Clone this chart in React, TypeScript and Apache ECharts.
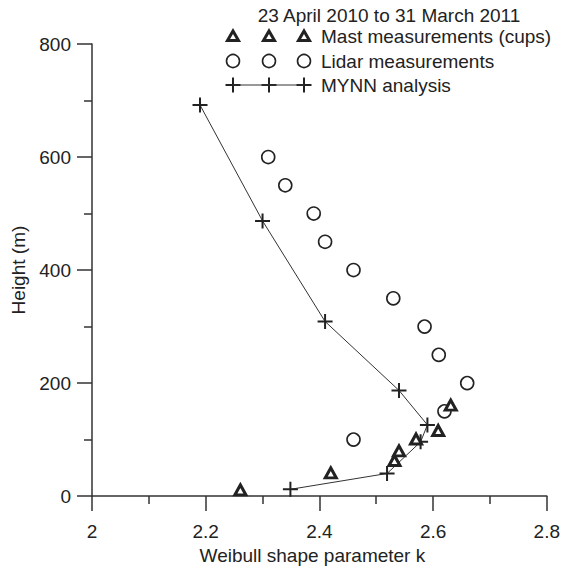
import React, { useEffect, useRef } from "react";
import * as echarts from "echarts";

const kTicks = ["2", "2.2", "2.4", "2.6", "2.8"];

const mastK = [2.261, 2.42, 2.532, 2.54, 2.57, 2.609, 2.631];
const mastH = [11, 41, 63, 80, 101, 116, 161];

const lidarK = [2.31, 2.34, 2.39, 2.41, 2.46, 2.53, 2.585, 2.61, 2.66, 2.62, 2.46];
const lidarH = [600, 550, 500, 450, 400, 350, 300, 250, 200, 150, 100];

const mynnK = [2.19, 2.3, 2.41, 2.54, 2.59, 2.578, 2.519, 2.349];
const mynnH = [692, 487, 309, 187, 126, 96, 40, 12];

const legendTitle = "23 April 2010 to 31 March 2011";
const legendNames = ["Mast measurements (cups)", "Lidar measurements", "MYNN analysis"];

const FONT = '"Liberation Sans", Arial, Helvetica, sans-serif';
const INK = "#222";
const PLUS = "path://M0,5 L10,5 M5,0 L5,10";

function zip(a: number[], b: number[]) {
  return a.map((v, i) => [v, b[i]]);
}

export default function App() {
  const ref = useRef<HTMLDivElement>(null);
  useEffect(() => {
    if (!ref.current) return;
    const chart = echarts.init(ref.current, undefined, { renderer: "svg" });
    const lx = [233, 269, 304];
    const rows = [36, 61, 85];
    const textX = 321;
    const legendEls: any[] = [];
    legendEls.push({
      type: "text",
      x: 389,
      y: 15,
      style: { text: legendTitle, fill: INK, font: `19px ${FONT}`, align: "center", verticalAlign: "middle" },
    });
    lx.forEach((x) => {
      legendEls.push({
        type: "polygon",
        shape: { points: [[x, rows[0] - 5], [x + 5.5, rows[0] + 4.5], [x - 5.5, rows[0] + 4.5]] },
        style: { fill: "#fff", stroke: INK, lineWidth: 3 },
      });
      legendEls.push({
        type: "circle",
        shape: { cx: x, cy: rows[1], r: 6.5 },
        style: { fill: "none", stroke: INK, lineWidth: 1.6 },
      });
      legendEls.push({
        type: "line",
        shape: { x1: x - 7.5, y1: rows[2], x2: x + 7.5, y2: rows[2] },
        style: { stroke: INK, lineWidth: 2 },
      });
      legendEls.push({
        type: "line",
        shape: { x1: x, y1: rows[2] - 7.5, x2: x, y2: rows[2] + 7.5 },
        style: { stroke: INK, lineWidth: 2 },
      });
    });
    legendEls.push({
      type: "line",
      shape: { x1: lx[0], y1: rows[2], x2: lx[2], y2: rows[2] },
      style: { stroke: "#333", lineWidth: 1 },
    });
    legendNames.forEach((n, i) => {
      legendEls.push({
        type: "text",
        x: textX,
        y: rows[i],
        style: { text: n, fill: INK, font: `19px ${FONT}`, align: "left", verticalAlign: "middle" },
      });
    });

    const axisCommon = {
      axisLine: { show: true, onZero: false, lineStyle: { color: "#333", width: 1.5 } },
      axisTick: { show: true, inside: false, length: 15, lineStyle: { color: "#333", width: 1.5 } },
      minorTick: { show: true, splitNumber: 2, length: 8, lineStyle: { color: "#333", width: 1.5 } },
      splitLine: { show: false },
      minorSplitLine: { show: false },
    };

    chart.setOption({
      animation: false,
      backgroundColor: "#fff",
      textStyle: { fontFamily: FONT },
      grid: { left: 92, right: 12, top: 44, bottom: 69, containLabel: false },
      xAxis: {
        type: "value",
        min: 2,
        max: 2.8,
        interval: 0.2,
        ...axisCommon,
        axisLabel: {
          margin: 26,
          color: INK,
          fontSize: 19,
          fontFamily: FONT,
          formatter: (v: number) => {
            const idx = Math.round((v - 2) / 0.2);
            return kTicks[idx] ?? String(v);
          },
        },
        name: "Weibull shape parameter k",
        nameLocation: "middle",
        nameGap: 46,
        nameTextStyle: { color: INK, fontSize: 19, fontFamily: FONT, padding: [0, 14, 0, 0] },
      },
      yAxis: {
        type: "value",
        min: 0,
        max: 800,
        interval: 200,
        ...axisCommon,
        axisLabel: { margin: 21, color: INK, fontSize: 19, fontFamily: FONT },
        name: "Height (m)",
        nameLocation: "middle",
        nameGap: 64,
        nameTextStyle: { color: INK, fontSize: 19, fontFamily: FONT },
      },
      graphic: legendEls,
      series: [
        {
          name: legendNames[2],
          type: "line",
          data: zip(mynnK, mynnH),
          symbol: PLUS,
          symbolSize: 15,
          showAllSymbol: true,
          lineStyle: { color: "#333", width: 1 },
          itemStyle: { color: INK, borderColor: INK, borderWidth: 2 },
          z: 2,
        },
        {
          name: legendNames[1],
          type: "scatter",
          data: zip(lidarK, lidarH),
          symbol: "circle",
          symbolSize: 13,
          itemStyle: { color: "none", borderColor: INK, borderWidth: 1.6, opacity: 1 },
          z: 3,
        },
        {
          name: legendNames[0],
          type: "scatter",
          data: zip(mastK, mastH),
          symbol: "triangle",
          symbolSize: [11, 10],
          itemStyle: { color: "#fff", borderColor: INK, borderWidth: 3, opacity: 1 },
          z: 4,
        },
      ],
    });
    return () => chart.dispose();
  }, []);
  return <div ref={ref} style={{ width: 563, height: 570, position: "absolute", left: 0, top: 0 }} />;
}
